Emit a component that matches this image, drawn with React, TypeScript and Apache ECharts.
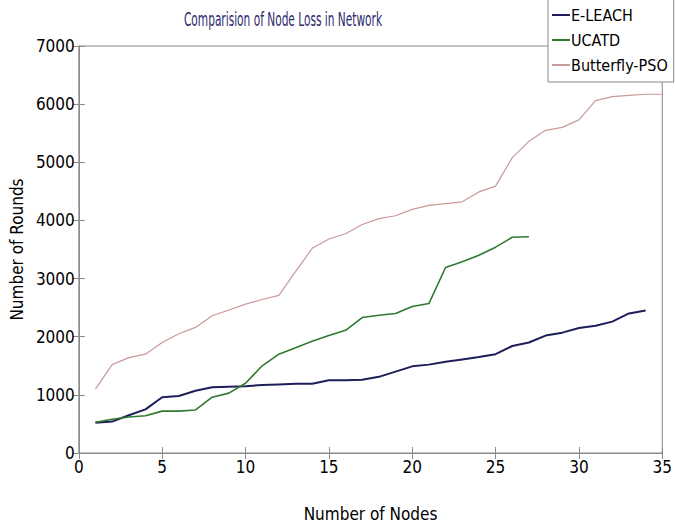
import React, { useEffect, useRef } from "react";
import * as echarts from "echarts";

const nodesA = [1,2,3,4,5,6,7,8,9,10,11,12,13,14,15,16,17,18,19,20,21,22,23,24,25,26,27,28,29,30,31,32,33,34];
const eleach = [520,540,650,750,960,980,1070,1130,1140,1150,1170,1180,1190,1190,1250,1250,1260,1310,1400,1490,1520,1570,1610,1650,1700,1840,1900,2020,2070,2150,2190,2260,2400,2450];
const nodesB = [1,2,3,4,5,6,7,8,9,10,11,12,13,14,15,16,17,18,19,20,21,22,23,24,25,26,27];
const ucatd = [530,580,620,640,720,720,740,960,1030,1200,1500,1700,1810,1920,2020,2110,2330,2370,2400,2520,2570,3190,3290,3400,3540,3710,3720];
const nodesC = [1,2,3,4,5,6,7,8,9,10,11,12,13,14,15,16,17,18,19,20,21,22,23,24,25,26,27,28,29,30,31,32,33,34,35];
const butterfly = [1100,1520,1640,1700,1900,2050,2160,2360,2460,2560,2640,2710,3120,3520,3680,3770,3930,4030,4080,4190,4260,4290,4320,4490,4590,5080,5360,5550,5600,5730,6060,6130,6150,6170,6170];
const xTicks = [0,5,10,15,20,25,30,35];
const yTicks = [0,1000,2000,3000,4000,5000,6000,7000];
const titleText = "Comparision of Node Loss in Network";

const FONT = "'Liberation Sans Narrow', 'DejaVu Sans Condensed', 'Liberation Sans', sans-serif";

export default function App() {
  const ref = useRef<HTMLDivElement>(null);
  useEffect(() => {
    if (!ref.current) return;
    const chart = echarts.init(ref.current, null, { renderer: "svg" });
    const axisLine = { show: true, lineStyle: { color: "#8a8a8a", width: 1 } };
    const tick = { show: true, inside: true, length: 6, lineStyle: { color: "#8a8a8a" } };
    const xMin = xTicks[0], xMax = xTicks[xTicks.length - 1];
    const yMin = yTicks[0], yMax = yTicks[yTicks.length - 1];
    chart.setOption({
      animation: false,
      backgroundColor: "#ffffff",
      graphic: [
        {
          type: "text", x: 283, y: 19, scaleX: 0.62, scaleY: 1,
          style: {
            text: titleText, fontFamily: FONT, fontSize: 19, fill: "#2b2b6e",
            textAlign: "center", textVerticalAlign: "middle",
          },
        },
      ],
      legend: {
        orient: "vertical",
        left: 548, top: -1,
        padding: [7, 6, 8, 4],
        itemGap: 7,
        itemWidth: 18, itemHeight: 2,
        icon: "rect",
        borderColor: "#8a8a8a", borderWidth: 1,
        backgroundColor: "#ffffff",
        textStyle: { fontFamily: FONT, fontSize: 16, lineHeight: 18, color: "#000", padding: [0, 0, 0, -4] },
        data: ["E-LEACH", "UCATD", "Butterfly-PSO"],
      },
      grid: { left: 65, right: 10, top: 46, bottom: 74, show: true, borderColor: "#8a8a8a", borderWidth: 1 },
      xAxis: [
        {
          type: "value", min: xMin, max: xMax, interval: 5,
          axisLine, axisTick: tick, splitLine: { show: false },
          axisLabel: { margin: 5, fontFamily: FONT, fontSize: 17, color: "#000" },
          name: "Number of Nodes", nameLocation: "middle", nameGap: 52,
          nameTextStyle: { fontFamily: FONT, fontSize: 17, color: "#000" },
        },
        {
          type: "value", position: "top", min: xMin, max: xMax, interval: 5,
          axisLine, axisTick: tick, axisLabel: { show: false }, splitLine: { show: false },
        },
      ],
      yAxis: [
        {
          type: "value", min: yMin, max: yMax, interval: 1000,
          axisLine, axisTick: tick, splitLine: { show: false },
          axisLabel: { margin: 4, fontFamily: FONT, fontSize: 17, color: "#000", formatter: (v: number) => String(v) },
          name: "Number of Rounds", nameLocation: "middle", nameGap: 40, nameRotate: 90,
          nameTextStyle: { fontFamily: FONT, fontSize: 17, color: "#000" },
        },
        {
          type: "value", position: "right", min: yMin, max: yMax, interval: 1000,
          axisLine, axisTick: tick, axisLabel: { show: false }, splitLine: { show: false },
        },
      ],
      series: [
        {
          name: "E-LEACH", type: "line", showSymbol: false, symbol: "none",
          data: nodesA.map((n, i) => [n, eleach[i]]),
          lineStyle: { color: "#1e1e5a", width: 2 }, itemStyle: { color: "#1e1e5a" },
        },
        {
          name: "UCATD", type: "line", showSymbol: false, symbol: "none",
          data: nodesB.map((n, i) => [n, ucatd[i]]),
          lineStyle: { color: "#2f7a2f", width: 1.6 }, itemStyle: { color: "#2f7a2f" },
        },
        {
          name: "Butterfly-PSO", type: "line", showSymbol: false, symbol: "none",
          data: nodesC.map((n, i) => [n, butterfly[i]]),
          lineStyle: { color: "#c99a9a", width: 1.2 }, itemStyle: { color: "#c99a9a" },
        },
      ],
    });
    return () => chart.dispose();
  }, []);
  return <div ref={ref} style={{ position: "fixed", left: 0, top: 0, width: 675, height: 527 }} />;
}
